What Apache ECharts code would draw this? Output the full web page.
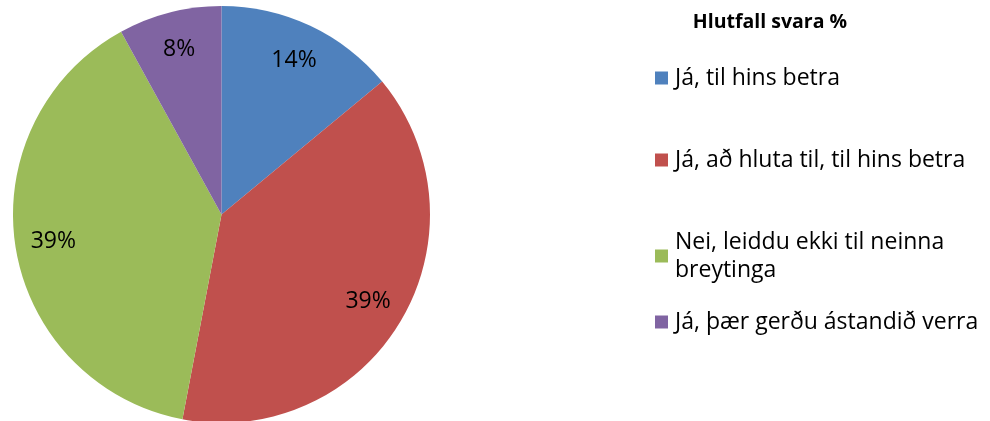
<!DOCTYPE html>
<html><head><meta charset="utf-8">
<script src="https://cdn.jsdelivr.net/npm/echarts@6/dist/echarts.min.js"></script>
<style>html,body{margin:0;padding:0;background:#fff}#c{width:990px;height:421px}</style>
</head><body><div id="c"></div>
<script>
const legendTitle = "Hlutfall svara %";
const categories = ["Já, til hins betra", "Já, að hluta til, til hins betra", "Nei, leiddu ekki til neinna\nbreytinga", "Já, þær gerðu ástandið verra"];
const values = [14, 39, 39, 8];
const colors = ["#4F81BD", "#C0504D", "#9BBB59", "#8064A2"];

const font = "'Open Sans', sans-serif";
const data = categories.map((n, i) => ({ name: n, value: values[i], itemStyle: { color: colors[i] } }));
const legendTops = [64, 146, 228, 308];
const legends = categories.map((n, i) => ({
  data: [n], left: 655, top: legendTops[i], orient: 'vertical', padding: 0,
  itemWidth: 13, itemHeight: 13, itemGap: 8, icon: 'rect',
  textStyle: { fontFamily: font, fontSize: 23, color: '#000', lineHeight: 28, padding: [0, 0, 0, 2] },
  selectedMode: false
}));
const chart = echarts.init(document.getElementById('c'), null, { renderer: 'canvas' });
chart.setOption({
  animation: false,
  title: { text: legendTitle, left: 770, top: 12, textAlign: 'center', padding: 0,
    textStyle: { fontFamily: font, fontSize: 19.5, fontWeight: 'bold', color: '#000' } },
  legend: legends,
  series: [
    { type: 'pie', center: [221.5, 214.5], radius: [0, 208.5], startAngle: 90, clockwise: true,
      label: { show: false }, labelLine: { show: false }, silent: true, data: data },
    { type: 'pie', center: [221.5, 214.5], radius: [126, 208.5], startAngle: 90, clockwise: true,
      itemStyle: { color: 'rgba(0,0,0,0)' }, silent: true, labelLine: { show: false }, emphasis: { disabled: true },
      label: { show: true, position: 'inside', formatter: p => p.value + '%', fontFamily: font, fontSize: 23, color: '#000' },
      data: data.map(d => ({ name: d.name, value: d.value })) }
  ]
});
</script></body></html>
